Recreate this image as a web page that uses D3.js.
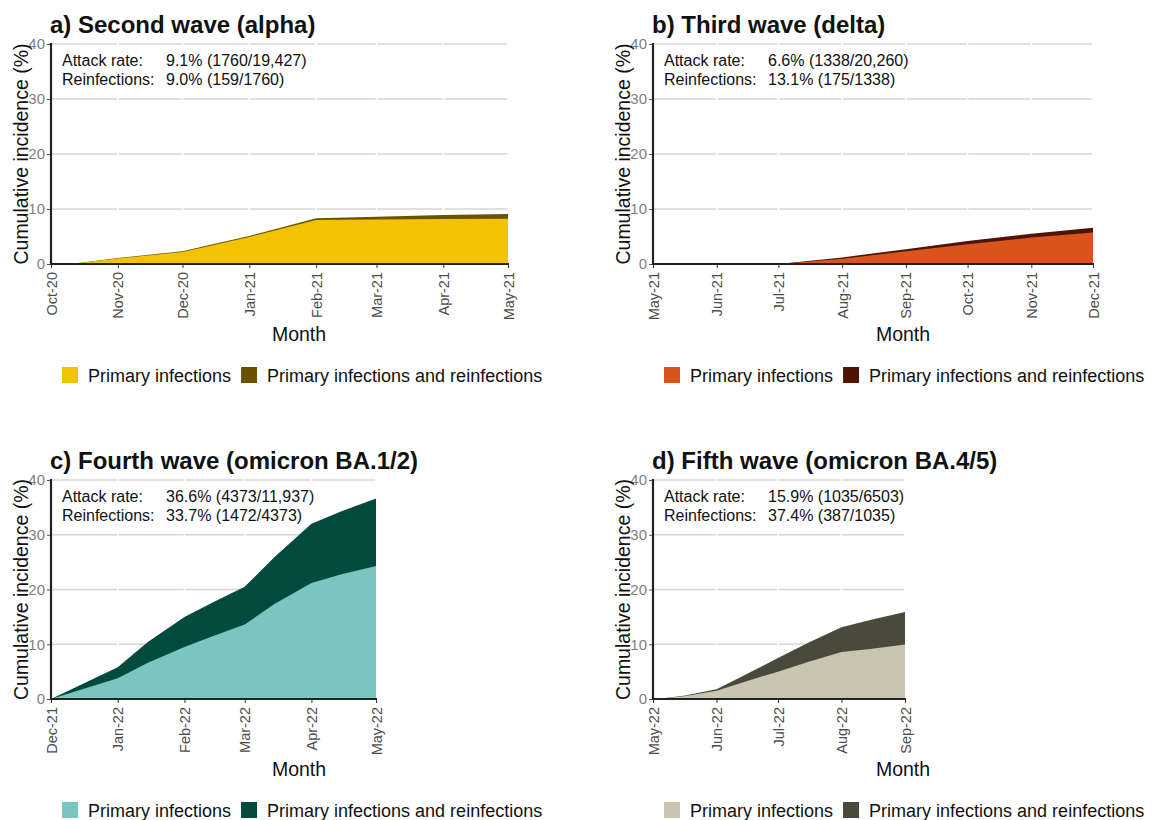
<!DOCTYPE html>
<html>
<head>
<meta charset="utf-8">
<script src="https://cdn.jsdelivr.net/npm/d3@7/dist/d3.min.js"></script>
<style>
  html, body { margin: 0; padding: 0; background: #fff; }
  svg { display: block; }
</style>
</head>
<body>
<svg id="chart" width="1161" height="820"></svg>
<script>
// ---- Data -----------------------------------------------------------------
const titles = [
  "a) Second wave (alpha)",
  "b) Third wave (delta)",
  "c) Fourth wave (omicron BA.1/2)",
  "d) Fifth wave (omicron BA.4/5)"
];

const monthTicksA = ["Oct-20", "Nov-20", "Dec-20", "Jan-21", "Feb-21", "Mar-21", "Apr-21", "May-21"];
const monthTicksB = ["May-21", "Jun-21", "Jul-21", "Aug-21", "Sep-21", "Oct-21", "Nov-21", "Dec-21"];
const monthTicksC = ["Dec-21", "Jan-22", "Feb-22", "Mar-22", "Apr-22", "May-22"];
const monthTicksD = ["May-22", "Jun-22", "Jul-22", "Aug-22", "Sep-22"];

// cumulative incidence (%) by date
const datesA   = ["2020-10-01", "2020-10-10", "2020-11-01", "2020-12-01", "2020-12-15", "2021-01-01", "2021-02-01", "2021-03-01", "2021-04-01", "2021-05-01"];
const totalA   = [0, 0, 1.1, 2.3, 3.6, 5.1, 8.3, 8.6, 8.9, 9.1];
const primaryA = [0, 0, 1.0, 2.2, 3.4, 4.9, 8.0, 8.1, 8.2, 8.24];

const datesB   = ["2021-05-01", "2021-07-01", "2021-08-01", "2021-09-01", "2021-10-01", "2021-11-01", "2021-12-01"];
const totalB   = [0, 0, 1.2, 2.7, 4.2, 5.5, 6.6];
const primaryB = [0, 0, 0.95, 2.3, 3.6, 4.8, 5.74];

const datesC   = ["2021-12-01", "2022-01-01", "2022-01-15", "2022-02-01", "2022-02-15", "2022-03-01", "2022-03-15", "2022-04-01", "2022-04-15", "2022-05-01"];
const totalC   = [0, 5.8, 10.4, 15.0, 17.8, 20.5, 26.0, 32.0, 34.3, 36.6];
const primaryC = [0, 3.8, 6.6, 9.5, 11.6, 13.6, 17.4, 21.2, 22.8, 24.3];

const datesD   = ["2022-05-01", "2022-05-05", "2022-05-16", "2022-06-01", "2022-06-16", "2022-07-01", "2022-07-16", "2022-08-01", "2022-08-16", "2022-09-01"];
const totalD   = [0, 0.1, 0.6, 1.8, 4.6, 7.5, 10.3, 13.1, 14.5, 15.9];
const primaryD = [0, 0.1, 0.5, 1.5, 3.3, 5.0, 6.8, 8.6, 9.2, 9.96];

const attackRates = ["9.1% (1760/19,427)", "6.6% (1338/20,260)", "36.6% (4373/11,937)", "15.9% (1035/6503)"];
const reinfectionRates = ["9.0% (159/1760)", "13.1% (175/1338)", "33.7% (1472/4373)", "37.4% (387/1035)"];

const primaryColors = ["#F3C200", "#D9531C", "#7AC5BF", "#C8C6B1"];
const totalColors   = ["#6B5200", "#4C1506", "#024A3E", "#4A4A3C"];

const legendLabels = ["Primary infections", "Primary infections and reinfections"];
const yTickValues = [0, 10, 20, 30, 40];

// ---- Layout ---------------------------------------------------------------
const FONT = "'Liberation Sans', Arial, Helvetica, sans-serif";
const frames = [
  { x0: 51,  x1: 508,  y0: 44,  y1: 264, mid: 299 },
  { x0: 653, x1: 1093, y0: 44,  y1: 264, mid: 903 },
  { x0: 51,  x1: 376,  y0: 480, y1: 699, mid: 299 },
  { x0: 653, x1: 905,  y0: 480, y1: 699, mid: 903 }
];

const parseMonth = d3.timeParse("%b-%y");
const parseDay = d3.timeParse("%Y-%m-%d");

const panels = [
  { ticks: monthTicksA, dates: datesA, total: totalA, primary: primaryA },
  { ticks: monthTicksB, dates: datesB, total: totalB, primary: primaryB },
  { ticks: monthTicksC, dates: datesC, total: totalC, primary: primaryC },
  { ticks: monthTicksD, dates: datesD, total: totalD, primary: primaryD }
];

const svg = d3.select("#chart").style("font-family", FONT);
svg.append("rect").attr("width", 1161).attr("height", 820).attr("fill", "#fff");

panels.forEach((p, i) => {
  const f = frames[i];
  const g = svg.append("g");
  const tickDates = p.ticks.map(parseMonth);

  const x = d3.scaleTime()
    .domain([tickDates[0], tickDates[tickDates.length - 1]])
    .range([f.x0, f.x1]);
  const y = d3.scaleLinear().domain([0, 40]).range([f.y1, f.y0]);

  // horizontal gridlines
  g.selectAll("line.grid").data(yTickValues).join("line")
    .attr("x1", f.x0).attr("x2", f.x1)
    .attr("y1", d => y(d)).attr("y2", d => y(d))
    .attr("stroke", "#d6d6d6").attr("stroke-width", 1.3);
  // thin breaks in the gridlines at each month
  g.selectAll("line.vgap").data(tickDates.slice(1)).join("line")
    .attr("x1", d => x(d)).attr("x2", d => x(d))
    .attr("y1", f.y0 - 2).attr("y2", f.y1)
    .attr("stroke", "#fff").attr("stroke-width", 1.6);

  const rows = p.dates.map((d, k) => ({ date: parseDay(d), total: p.total[k], primary: p.primary[k] }));

  const areaTotal = d3.area().x(d => x(d.date)).y0(y(0)).y1(d => y(d.total));
  const areaPrimary = d3.area().x(d => x(d.date)).y0(y(0)).y1(d => y(d.primary));

  g.append("path").datum(rows).attr("d", areaTotal).attr("fill", totalColors[i]);
  g.append("path").datum(rows).attr("d", areaPrimary).attr("fill", primaryColors[i]);

  // y axis
  const yAxis = d3.axisLeft(y).tickValues(yTickValues).tickSize(4).tickPadding(2);
  const ya = g.append("g").attr("transform", `translate(${f.x0},0)`).call(yAxis);
  ya.select(".domain").remove();
  ya.selectAll(".tick line").attr("stroke", "#555");
  ya.selectAll(".tick text").attr("fill", "#808080").style("font-size", "15px").style("font-family", FONT);

  // x axis
  const xAxis = d3.axisBottom(x).tickValues(tickDates)
    .tickFormat((d, k) => p.ticks[k]).tickSize(4).tickPadding(4);
  const xa = g.append("g").attr("transform", `translate(0,${f.y1})`).call(xAxis);
  xa.select(".domain").remove();
  xa.selectAll(".tick line").attr("stroke", "#333");
  xa.selectAll(".tick text")
    .attr("fill", "#4d4d4d")
    .style("font-size", "14.5px").style("font-family", FONT)
    .attr("text-anchor", "end")
    .attr("transform", "rotate(-90)")
    .attr("x", -8).attr("y", 0).attr("dy", "0.35em");

  // axis lines
  g.append("line").attr("x1", f.x0).attr("x2", f.x0).attr("y1", f.y0 - 1).attr("y2", f.y1 + 1)
    .attr("stroke", "#222").attr("stroke-width", 2.2);
  g.append("line").attr("x1", f.x0 - 1).attr("x2", f.x1 + 1).attr("y1", f.y1).attr("y2", f.y1)
    .attr("stroke", "#222").attr("stroke-width", 2.2);

  // title
  g.append("text").attr("x", f.x0 - 1).attr("y", f.y0 - 11)
    .text(titles[i]).attr("font-weight", "bold").style("font-size", "24px").attr("fill", "#111");

  // y axis title
  g.append("text")
    .attr("transform", `translate(${f.x0 - 23},${(f.y0 + f.y1) / 2}) rotate(-90)`)
    .attr("text-anchor", "middle")
    .style("font-size", "19.5px").attr("fill", "#111")
    .text("Cumulative incidence (%)");

  // x axis title
  g.append("text").attr("x", f.mid).attr("y", f.y1 + 77)
    .attr("text-anchor", "middle").style("font-size", "19.5px").attr("fill", "#111")
    .text("Month");

  // annotation
  const ann = g.append("g").style("font-size", "16px").attr("fill", "#111");
  ann.append("text").attr("x", f.x0 + 11).attr("y", f.y0 + 22).text("Attack rate:");
  ann.append("text").attr("x", f.x0 + 11).attr("y", f.y0 + 41).text("Reinfections:");
  ann.append("text").attr("x", f.x0 + 115).attr("y", f.y0 + 22).text(attackRates[i]);
  ann.append("text").attr("x", f.x0 + 115).attr("y", f.y0 + 41).text(reinfectionRates[i]);

  // legend
  const lg = g.append("g").attr("transform", `translate(${f.x0 + 11},${f.y1 + 103})`);
  let cx = 0;
  [primaryColors[i], totalColors[i]].forEach((c, k) => {
    lg.append("rect").attr("x", cx).attr("y", 0).attr("width", 16).attr("height", 16).attr("fill", c);
    const t = lg.append("text").attr("x", cx + 26).attr("y", 15)
      .style("font-size", "18px").attr("fill", "#111").text(legendLabels[k]);
    cx += 26 + t.node().getComputedTextLength() + 10;
  });
});
</script>
</body>
</html>
